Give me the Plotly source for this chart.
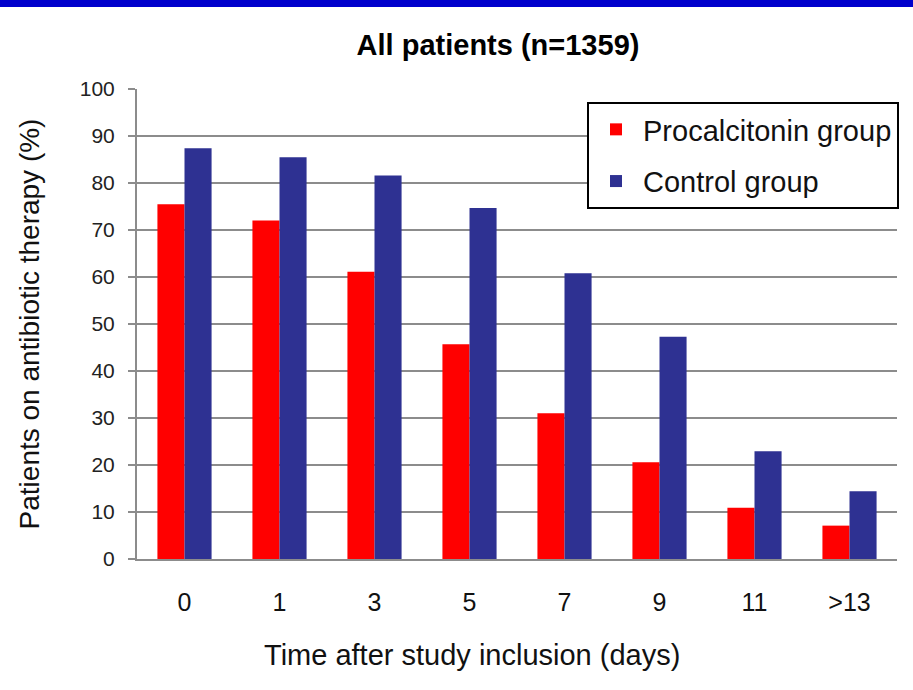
import plotly.graph_objects as go

categories = ["0", "1", "3", "5", "7", "9", "11", ">13"]
procalcitonin = [75.5, 72.0, 61.1, 45.7, 31.0, 20.6, 10.9, 7.1]
control = [87.4, 85.5, 81.6, 74.7, 60.8, 47.3, 22.9, 14.4]
y_ticks = list(range(0, 101, 10))

W, H = 913, 690
L, R, T, B = 137, 16, 89, 131
pw, ph = W - L - R, H - T - B

def px_to_paper_x(px):
    return (px - L) / pw

def px_to_paper_y(py):
    return (H - B - py) / ph

FONT = "Liberation Sans, Arial, sans-serif"

fig = go.Figure()
fig.add_trace(go.Bar(name="Procalcitonin group", x=categories, y=procalcitonin,
                     legendgroup="pct",
                     marker=dict(color="#FF0000", line=dict(width=0))))
fig.add_trace(go.Bar(name="Control group", x=categories, y=control,
                     legendgroup="ctl",
                     marker=dict(color="#2E3192", line=dict(width=0))))

fig.update_layout(
    width=W, height=H,
    margin=dict(l=L, r=R, t=T, b=B, autoexpand=False),
    paper_bgcolor="white", plot_bgcolor="white",
    barmode="group", bargap=0.43, bargroupgap=0,
    font=dict(family=FONT, color="#111111"),
    title=dict(text="<b>All patients (n=1359)</b>", x=(498 / W), xanchor="center",
               y=1 - 45 / H, yanchor="middle",
               font=dict(family=FONT, size=29, color="#000000")),
    legend=dict(x=px_to_paper_x(587), y=px_to_paper_y(102), xanchor="left", yanchor="top",
                bgcolor="white", bordercolor="#000000", borderwidth=2,
                font=dict(family=FONT, size=29, color="#111111"),
                itemwidth=44, tracegroupgap=11),
    showlegend=True,
    shapes=[dict(type="rect", xref="paper", yref="paper",
                 x0=px_to_paper_x(0), x1=px_to_paper_x(W),
                 y0=px_to_paper_y(7), y1=px_to_paper_y(-2),
                 fillcolor="#0000CC", line=dict(width=0), layer="above")],
    annotations=[dict(text="Time after study inclusion (days)", showarrow=False,
                      xref="paper", yref="paper",
                      x=px_to_paper_x(472), y=px_to_paper_y(655),
                      xanchor="center", yanchor="middle",
                      font=dict(family=FONT, size=29, color="#111111"))],
)

fig.update_xaxes(
    type="category",
    showgrid=False,
    showline=True, linecolor="#8C8C8C", linewidth=2,
    ticks="", ticklabelstandoff=20,
    tickfont=dict(family=FONT, size=25, color="#111111"),
)
fig.update_yaxes(
    range=[0, 100], tickvals=y_ticks,
    showgrid=True, gridcolor="#8C8C8C", gridwidth=2,
    showline=True, linecolor="#8C8C8C", linewidth=2,
    ticks="outside", ticklen=7, tickcolor="#8C8C8C", tickwidth=2,
    ticklabelstandoff=9,
    tickfont=dict(family=FONT, size=21, color="#222222"),
    zeroline=False,
    title=dict(text="Patients on antibiotic therapy (%)", standoff=32,
               font=dict(family=FONT, size=28, color="#111111")),
)

fig.write_html("out.html")
